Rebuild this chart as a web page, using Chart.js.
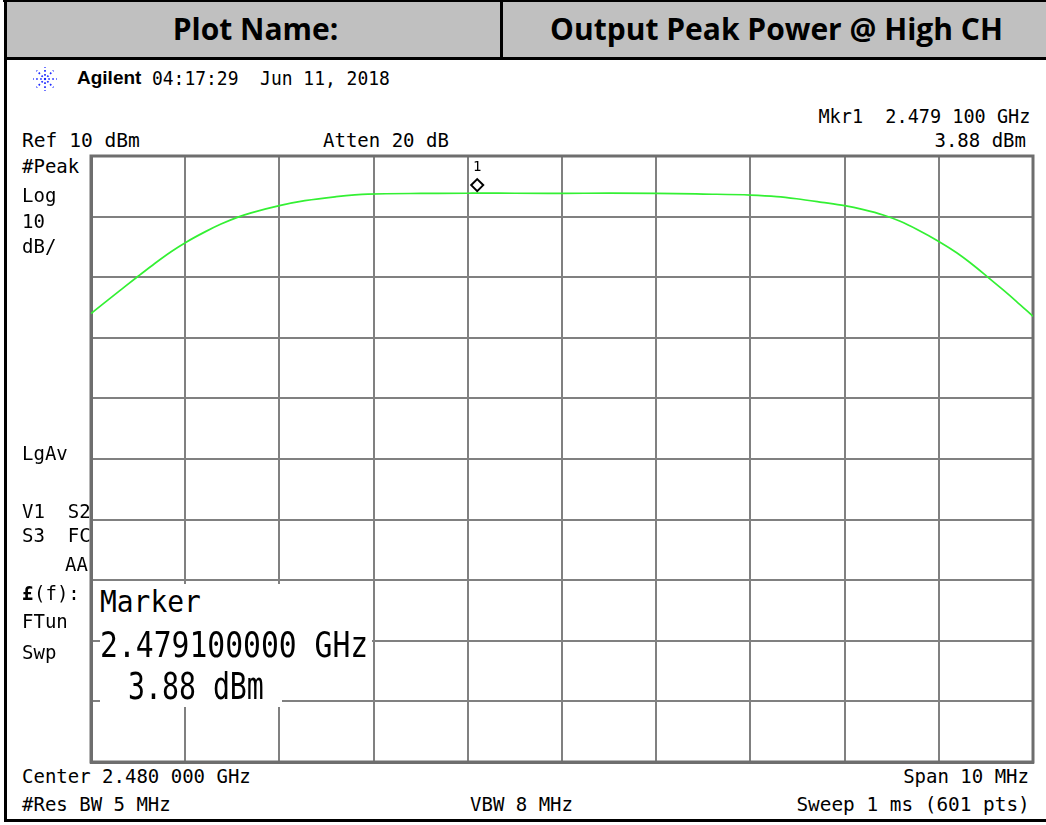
<!DOCTYPE html>
<html>
<head>
<meta charset="utf-8">
<script src="https://cdn.jsdelivr.net/npm/chart.js@4.4.1/dist/chart.umd.min.js"></script>
<style>
  body { margin: 0; background: #fff; }
  #page { position: relative; width: 1046px; height: 825px; overflow: hidden; background: #fff; }
  .box { position: absolute; }
  .hd { position: absolute; top: 14px; font-family: "Open Sans", sans-serif; font-weight: 700; font-size: 30px; line-height: 30px; color: #000; white-space: pre; }
  .t { position: absolute; font-family: "DejaVu Sans Mono", monospace; font-size: 19px; line-height: 19px; color: #000; white-space: pre; transform-origin: 0 50%; }
  .big { font-size: 30px; line-height: 30px; }
  .wb { position: absolute; background: #fff; }
  #plotWrap { position: absolute; left: 88px; top: 153px; width: 948px; height: 612px; }
</style>
</head>
<body>
<div id="page">
  <div class="box" style="left:7px;top:2px;width:1039px;height:55px;background:#c0c0c0"></div>
  <div class="box" style="left:3px;top:0;width:1043px;height:2px;background:#000"></div>
  <div class="box" style="left:4px;top:0;width:3px;height:822px;background:#000"></div>
  <div class="box" style="left:500px;top:0;width:3px;height:58px;background:#000"></div>
  <div class="box" style="left:4px;top:57px;width:1042px;height:3px;background:#000"></div>
  <div class="box" style="left:4px;top:819px;width:1042px;height:3px;background:#000"></div>
  <div class="hd" style="left:9px;width:493px;text-align:center">Plot Name:</div>
  <div class="hd" style="left:505px;width:543px;text-align:center">Output Peak Power @ High CH</div>

  <svg class="box" style="left:31px;top:66px" width="28" height="26" viewBox="-14 -13 28 26">
    <g stroke="#1f2bff" stroke-width="1.7" stroke-dasharray="1.7 2.3" stroke-dashoffset="0.8">
      <line x1="0" y1="0" x2="12" y2="0"/>
      <line x1="0" y1="0" x2="-12" y2="0"/>
      <line x1="0" y1="0" x2="0" y2="12"/>
      <line x1="0" y1="0" x2="0" y2="-12"/>
      <line x1="0" y1="0" x2="8.5" y2="8.5"/>
      <line x1="0" y1="0" x2="-8.5" y2="-8.5"/>
      <line x1="0" y1="0" x2="8.5" y2="-8.5"/>
      <line x1="0" y1="0" x2="-8.5" y2="8.5"/>
    </g>
  </svg>
  <div class="t" style="left:77px;top:68px;font-family:'Liberation Sans',sans-serif;font-weight:700;font-size:19px">Agilent</div>

  <div id="plotWrap"><canvas id="chart"></canvas></div>
</div>
<script>
const freqMHz = [
  2475.00, 2475.145, 2475.32, 2475.50, 2475.68, 2475.85, 2476.01, 2476.21,
  2476.38, 2476.56, 2476.70, 2477.00, 2477.27, 2477.59, 2477.94, 2478.50,
  2479.00, 2479.10, 2479.50, 2480.00, 2480.50, 2481.00, 2481.50, 2482.00,
  2482.28, 2482.49, 2482.76, 2483.00, 2483.20, 2483.41, 2483.59, 2483.77,
  2484.00, 2484.19, 2484.33, 2484.51, 2484.68, 2484.82, 2485.00
];
const levelDbm = [
  -16.0, -14.2, -12.05, -9.85, -7.69, -5.79, -4.22, -2.52,
  -1.23, -0.08, 0.62, 1.82, 2.63, 3.27, 3.72, 3.82,
  3.85, 3.88, 3.85, 3.84, 3.86, 3.84, 3.72, 3.56,
  3.31, 2.95, 2.36, 1.8, 1.14, 0.26, -0.78, -2.13,
  -4.1, -5.97, -7.58, -9.85, -12.06, -13.94, -16.46
];
const markerFreq = [2479.1];
const markerLevel = [3.88];
const markerLabel = ['1'];
const yTicks = [10, 0, -10, -20, -30, -40, -50, -60, -70, -80, -90];

const page = document.getElementById('page');
function put(text, x, cy, extra, right) {
  const d = document.createElement('div');
  d.className = 't' + (extra && extra.big ? ' big' : '');
  d.textContent = text;
  const fs = extra && extra.big ? 30 : 19;
  d.style.top = (cy - fs / 2) + 'px';
  if (right) { d.style.right = (1046 - x) + 'px'; d.style.transformOrigin = '100% 50%'; }
  else d.style.left = x + 'px';
  if (extra && extra.tf) d.style.transform = extra.tf;
  if (extra && extra.bold) d.style.fontWeight = '700';
  page.appendChild(d);
  return d;
}
function white(x, y, w, h) {
  const d = document.createElement('div');
  d.className = 'wb';
  Object.assign(d.style, { left: x + 'px', top: y + 'px', width: w + 'px', height: h + 'px' });
  return d;
}

put('04:17:29  Jun 11, 2018', 152, 78, { tf: 'scaleX(0.945)' });
put('Mkr1  2.479 100 GHz', 1030, 116, { tf: 'scaleX(0.975)' }, true);
put('Ref 10 dBm', 22, 140, { tf: 'scaleX(1.03)' });
put('Atten 20 dB', 323, 140);
put('3.88 dBm', 1026, 140, null, true);
put('#Peak', 22, 166);
put('Log', 22, 195);
put('10', 22, 221);
put('dB/', 22, 246);
put('LgAv', 22, 453);
put('V1  S2', 22, 511);
put('S3  FC', 22, 535);
put('AA', 88, 564, null, true);
put('£', 22, 593, { bold: true });
put('(f):', 34, 593);
put('FTun', 22, 621);
put('Swp', 22, 652);
put('Center 2.480 000 GHz', 22, 776);
put('Span 10 MHz', 1029, 776, null, true);
put('#Res BW 5 MHz', 22, 804);
put('VBW 8 MHz', 470, 804);
put('Sweep 1 ms (601 pts)', 1030, 804, { tf: 'scaleX(1.02)' }, true);

const readout = [];
readout.push(white(100, 584, 182, 41));
readout.push(white(100, 625, 272, 41));
readout.push(white(100, 666, 182, 41));

new Chart(document.getElementById('chart'), {
  type: 'line',
  data: {
    datasets: [{
      data: freqMHz.map((f, i) => ({ x: f, y: levelDbm[i] })),
      borderColor: '#33f033',
      borderWidth: 1.7,
      pointRadius: 0,
      cubicInterpolationMode: 'monotone',
      fill: false
    }]
  },
  options: {
    responsive: true, maintainAspectRatio: false,
    animation: false,
    layout: { padding: 3 },
    plugins: { legend: { display: false }, tooltip: { enabled: false } },
    scales: {
      x: {
        type: 'linear', min: 2475, max: 2485,
        ticks: { display: false, stepSize: 1 },
        grid: { color: '#808080', lineWidth: 2, drawTicks: false },
        border: { display: true, color: '#6e6e6e', width: 3 }
      },
      y: {
        min: -90, max: 10,
        afterBuildTicks: s => { s.ticks = yTicks.map(v => ({ value: v })); },
        ticks: { display: false },
        grid: { color: '#808080', lineWidth: 2, drawTicks: false },
        border: { display: true, color: '#6e6e6e', width: 3 }
      }
    }
  },
  plugins: [{
    id: 'frame',
    beforeDatasetsDraw(chart) {
      const { ctx, chartArea: a } = chart;
      ctx.save();
      ctx.strokeStyle = '#6e6e6e';
      ctx.lineWidth = 3;
      ctx.strokeRect(a.left, a.top, a.right - a.left, a.bottom - a.top);
      ctx.restore();
    },
    afterDatasetsDraw(chart) {
      const { ctx } = chart;
      const xs = chart.scales.x, ys = chart.scales.y;
      ctx.save();
      markerFreq.forEach((f, i) => {
        const px = xs.getPixelForValue(f);
        const py = ys.getPixelForValue(markerLevel[i]) - 8;
        ctx.strokeStyle = '#000';
        ctx.lineWidth = 2;
        ctx.beginPath();
        ctx.moveTo(px, py - 6); ctx.lineTo(px + 6, py); ctx.lineTo(px, py + 6); ctx.lineTo(px - 6, py);
        ctx.closePath();
        ctx.stroke();
        ctx.fillStyle = '#000';
        ctx.font = '14px "DejaVu Sans Mono"';
        ctx.textAlign = 'center';
        ctx.textBaseline = 'middle';
        ctx.fillText(markerLabel[i], px, py - 18);
      });
      ctx.restore();
    }
  }]
});

readout.forEach(d => page.appendChild(d));
put('Marker', 100, 602, { big: true, tf: 'scale(0.93,1.0)' });
put('2.479100000 GHz', 100, 645, { big: true, tf: 'scale(0.99,1.2)' });
put('3.88 dBm', 128, 686, { big: true, tf: 'scale(0.94,1.25)' });
</script>
</body>
</html>
